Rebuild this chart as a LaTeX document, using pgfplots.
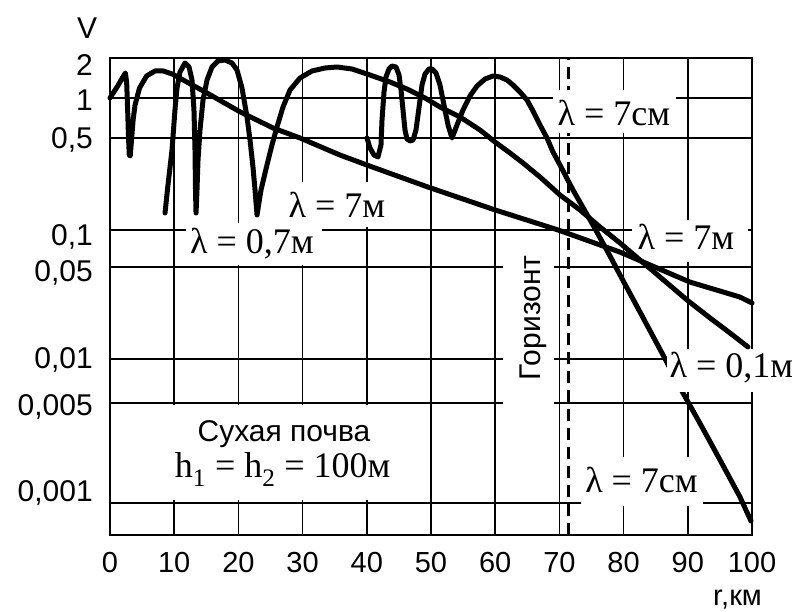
\documentclass[border=0pt]{standalone}
\usepackage{pgfplots}
\pgfplotsset{compat=1.18}
\usepackage{fontspec}
\setmainfont{Liberation Sans}
\newfontfamily\serif{Liberation Serif}
\newcommand\lamfont{\serif\fontsize{36}{40}\selectfont}
\newcommand\tl{\fontsize{29}{34}\selectfont}
\newcommand\tly{\fontsize{30}{34}\selectfont}
\begin{document}
\begin{tikzpicture}
\useasboundingbox (-110pt,-77pt) rectangle (682pt,535pt);
\begin{axis}[
  at={(0pt,0pt)}, anchor=south west,
  scale only axis, width=642pt, height=477pt,
  xmin=0, xmax=100, ymin=0, ymax=477,
  clip=false,
  axis line style={line width=2pt},
  xtick={0,10,...,100},
  xticklabels={{\tl 0},{\tl 10},{\tl 20},{\tl 30},{\tl 40},{\tl 50},{\tl 60},{\tl 70},{\tl 80},{\tl 90},{\tl 100}},
  xmajorgrids=true,
  ytick={44,130,177,264,300,397,435,470},
  yticklabels={{\tly 0,001},{\tly 0,005},{\tly 0,01},{\tly 0,05},{\tly 0,1},{\tly 0,5},{\tly 1},{\tly 2}},
  extra y ticks={32,132,176,268,305,397,437},
  extra y tick labels={},
  extra y tick style={grid=major},
  major tick length=0pt,
  grid style={black, line width=1.7pt},
  tick label style={inner sep=0pt},
  xticklabel style={anchor=north, yshift=-17pt},
  yticklabel style={anchor=base east, xshift=-17pt, yshift=-10.7pt},
]
% horizon (dashed)
\addplot[black, no markers, line width=3pt, dash pattern=on 12pt off 7pt] coordinates {(71.34,0) (71.34,477)};
% white label boxes (hide grid)
\fill[white] (axis cs:11.84,270) rectangle (axis cs:33.02,312);
\fill[white] (axis cs:27.26,308) rectangle (axis cs:43.93,353);
\fill[white] (axis cs:69.0,402) rectangle (axis cs:88.16,445);
\fill[white] (axis cs:81.31,273) rectangle (axis cs:99.38,315);
\fill[white] (axis cs:73.36,29) rectangle (axis cs:92.37,78);
\fill[white] (axis cs:61.21,127) rectangle (axis cs:69.16,290);
\fill[white] (axis cs:0.16,35) rectangle (axis cs:44.5,130);
% lambda = 7 cm
\addplot[black, no markers, line width=5pt, line join=round, line cap=round] coordinates {
(40.03,397) (40.50,387) (41.12,380) (41.74,378) (42.21,390) (42.37,415) (42.68,443) (42.99,458) (43.46,466) (43.93,469) (44.55,468) (45.02,460) (45.33,445) (45.64,425) (45.95,405) (46.26,396) (46.73,394) (47.20,395) (47.66,405) (47.98,420) (48.29,435) (48.60,450) (49.07,461) (49.69,466) (50.16,466) (50.78,462) (51.40,450) (52.02,430) (52.65,410) (53.27,397) (54.05,410) (54.98,425) (56.07,439) (57.17,449) (58.41,456) (59.66,459) (60.75,458) (61.84,455) (62.77,450) (63.86,443) (64.95,435) (65.89,424) (66.98,410) (68.07,397) (69.00,383) (70.09,370) (72.12,345) (75.23,310) (77.88,279) (79.44,260) (82.55,223) (86.14,180) (89.25,142) (92.21,108) (95.02,75) (98.13,38) (99.84,14)};
\fill[white] (axis cs:86.76,143) rectangle (axis cs:106.7,186);
% lambda = 7 m
\addplot[black, no markers, line width=5pt, line join=round, line cap=round] coordinates {
(0,437) (1.2,449) (2.2,460) (2.4,462) (2.6,452) (2.75,425) (2.87,400) (3.0,380) (3.15,379) (3.35,395) (3.6,415) (3.9,430) (4.6,447) (5.7,459) (7.0,464) (8.3,464) (9.7,461) (11.4,455) (15.1,442) (20.3,423) (25.4,407) (29.6,397) (35.8,380) (40.0,370) (49.5,348) (60.0,325) (69.8,305) (79.4,283) (90.3,253) (98.1,238) (100,232)};
% lambda = 0.7 m
\addplot[black, no markers, line width=5pt, line join=round, line cap=round] coordinates {
(8.57,322) (9.03,350) (9.66,385) (10.12,425) (10.44,447) (10.90,463) (11.68,472) (12.31,468) (12.77,455) (13.08,425) (13.24,385) (13.32,345) (13.40,322) (13.55,345) (13.71,375) (14.02,405) (14.49,435) (15.11,455) (15.89,468) (16.82,474) (17.91,475) (19.00,472) (19.78,465) (20.56,447) (21.34,418) (21.81,395) (22.27,368) (22.59,345) (22.90,320) (23.52,345) (24.45,370) (25.23,390) (26.01,408) (26.95,428) (28.04,445) (29.60,457) (31.46,464) (33.49,467) (35.36,468) (37.69,466) (40.03,461) (43.61,453) (46.26,446) (49.07,437) (51.40,428) (54.52,418) (57.63,405) (59.97,393) (62.31,382) (64.33,372) (66.98,358) (70.09,340) (73.21,325) (76.32,308) (79.44,292) (82.55,275) (85.67,258) (89.88,235) (93.46,217) (96.57,202) (99.38,188)};
% texts
\node[anchor=base, font=\lamfont, inner sep=0pt] at (axis cs:22.1,281) {λ = 0,7м};
\node[anchor=base, font=\lamfont, inner sep=0pt] at (axis cs:35.36,317) {λ = 7м};
\node[anchor=base, font=\lamfont, inner sep=0pt] at (axis cs:78.5,409) {λ = 7см};
\node[anchor=base, font=\lamfont, inner sep=0pt] at (axis cs:89.72,285) {λ = 7м};
\node[anchor=base, font=\lamfont, inner sep=0pt] at (axis cs:96.8,157) {λ = 0,1м};
\node[anchor=base, font=\lamfont, inner sep=0pt] at (axis cs:82.79,42) {λ = 7см};
\node[anchor=base, rotate=90, font=\fontsize{30}{34}\selectfont, inner sep=0pt] at (axis cs:66.98,217) {Горизонт};
\node[anchor=base, font=\fontsize{30}{34}\selectfont, inner sep=0pt] at (axis cs:27.1,93) {Сухая почва};
\node[anchor=base, font=\lamfont, inner sep=0pt] at (axis cs:26.9,57) {h\textsubscript{1} = h\textsubscript{2} = 100м};
\node[anchor=center, inner sep=0pt] at (axis cs:-3.58,507) {\tly V};
\node[anchor=base, inner sep=0pt] at (axis cs:97.74,-71) {\tl r,км};
\end{axis}
\end{tikzpicture}
\end{document}
